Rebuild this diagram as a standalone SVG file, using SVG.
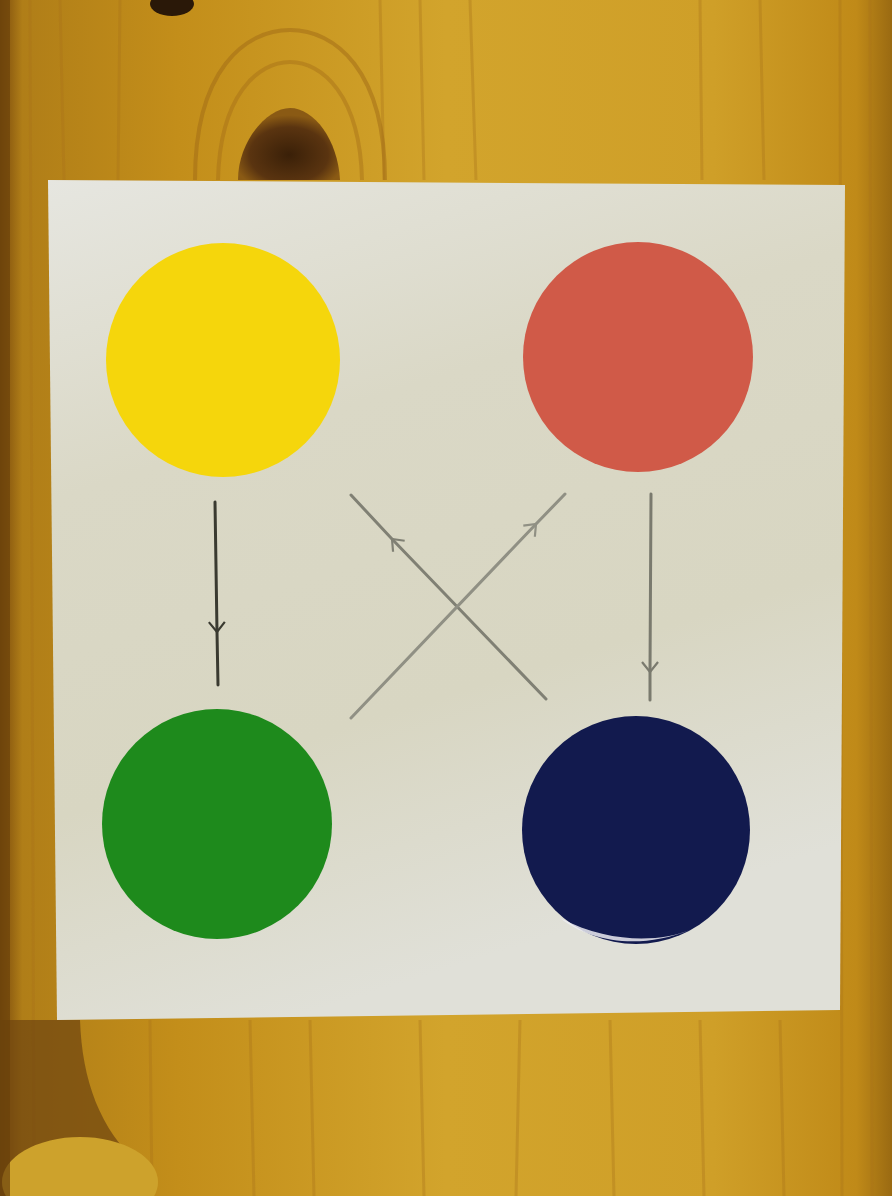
<svg xmlns="http://www.w3.org/2000/svg" width="892" height="1196" viewBox="0 0 892 1196">
<defs>
<linearGradient id="wood" x1="0" y1="0" x2="1" y2="0">
<stop offset="0" stop-color="#7a4a0c"/>
<stop offset="0.025" stop-color="#b07e18"/>
<stop offset="0.2" stop-color="#c38e1a"/>
<stop offset="0.5" stop-color="#d2a42c"/>
<stop offset="0.8" stop-color="#cf9f28"/>
<stop offset="0.96" stop-color="#c08a18"/>
<stop offset="1" stop-color="#9a6a12"/>
</linearGradient>
<linearGradient id="paper" x1="0" y1="0" x2="0.3" y2="1">
<stop offset="0" stop-color="#e6e6e0"/>
<stop offset="0.35" stop-color="#dad8c6"/>
<stop offset="0.7" stop-color="#d8d6c2"/>
<stop offset="1" stop-color="#e0e0d8"/>
</linearGradient>
<radialGradient id="knot" cx="0.5" cy="0.65" r="0.55">
<stop offset="0" stop-color="#3a2008"/>
<stop offset="0.7" stop-color="#5a3410"/>
<stop offset="1" stop-color="#8a5a14"/>
</radialGradient>
<marker id="v" viewBox="-12 -9 14 18" markerWidth="14" markerHeight="18" refX="0" refY="0" orient="auto" markerUnits="userSpaceOnUse">
<path d="M-10,-8 L0,0 L-10,8" fill="none" stroke="context-stroke" stroke-width="2.2"/>
</marker>
<style>
.grain{fill:none;stroke:#a8741a;stroke-opacity:0.35;stroke-width:3}
.conn{fill:none;stroke-width:3;stroke-linecap:round}
</style>
</defs>
<rect width="892" height="1196" fill="url(#wood)"/>
<g id="wood-grain">
<path class="grain" d="M30,0 L34,1196 M60,0 L64,180 M120,0 L118,180 M380,0 L384,180 M420,0 L424,180 M470,0 L476,180 M700,0 L702,180 M760,0 L764,180 M840,0 L842,1196 M870,0 L872,1196"/>
<path class="grain" d="M150,1020 L152,1196 M250,1020 L254,1196 M310,1020 L314,1196 M420,1020 L424,1196 M520,1020 L516,1196 M610,1020 L614,1196 M700,1020 L704,1196 M780,1020 L784,1196"/>
<path d="M195,180 C195,70 245,30 290,30 C335,30 385,70 385,180" fill="none" stroke="#a06a16" stroke-opacity="0.5" stroke-width="4"/>
<path d="M218,180 C220,95 258,62 290,62 C322,62 360,95 362,180" fill="none" stroke="#a06a16" stroke-opacity="0.4" stroke-width="4"/>
<path d="M238,180 C238,140 268,108 290,108 C314,108 338,140 340,180 Z" fill="url(#knot)"/>
<ellipse cx="172" cy="4" rx="22" ry="12" fill="#2a1808"/>
<path d="M0,1020 L80,1020 C82,1080 100,1130 140,1165 L140,1196 L0,1196 Z" fill="#6e4410" fill-opacity="0.7"/>
<ellipse cx="80" cy="1182" rx="78" ry="45" fill="#cda22c"/>
<rect x="0" y="0" width="10" height="1196" fill="#6a420c" fill-opacity="0.7"/>
</g>
<polygon id="paper-sheet" points="48,180 845,185 840,1010 57,1020" fill="url(#paper)"/>
<g id="node-yellow"><circle cx="223" cy="360" r="117" fill="#f5d60c"/></g>
<g id="node-red"><circle cx="638" cy="357" r="115" fill="#d05a48"/></g>
<g id="node-green"><circle cx="217" cy="824" r="115" fill="#1e8a1c"/></g>
<g id="node-navy"><circle cx="636" cy="830" r="114" fill="#121a4e"/>
<path d="M560,918 C590,942 640,950 690,930 C660,942 610,944 560,918 Z" fill="#ececf2" fill-opacity="0.85"/></g>
<g id="connectors">
<path class="conn" d="M215,502 L217,632 L218,685" stroke="#3a3a30" marker-mid="url(#v)"/>
<path class="conn" d="M651,494 L650,672 L650,700" stroke="#7a7a6e" marker-mid="url(#v)"/>
<path class="conn" d="M546,699 L392,539 L351,495" stroke="#808074" marker-mid="url(#v)"/>
<path class="conn" d="M351,718 L536,524 L565,494" stroke="#909084" marker-mid="url(#v)"/>
</g>
</svg>
